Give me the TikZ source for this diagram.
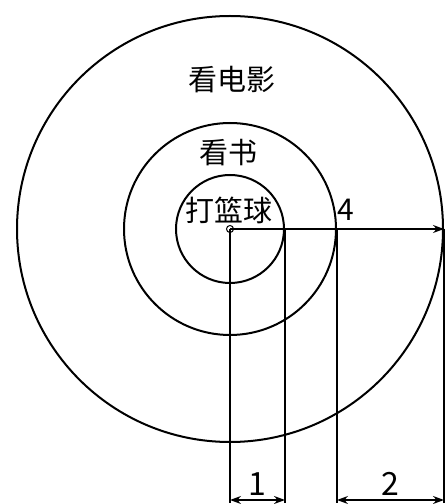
\documentclass[tikz,border=0pt]{standalone}
\usepackage{fontspec}
\setmainfont{Noto Sans CJK SC}
\usepackage{tikz}
\usetikzlibrary{arrows.meta,positioning,calc}
\tikzset{
  ring/.style={draw, circle, line width=2pt, inner sep=0pt},
  lbl/.style={font=\fontsize{29}{31}\selectfont, inner sep=0pt},
  num/.style={font=\fontsize{32}{34}\selectfont, inner sep=0pt},
  dimln/.style={line width=1.2pt},
  arr/.style={-{Stealth[length=11pt,width=8pt]}, line width=1.2pt},
  darr/.style={{Stealth[length=11pt,width=8pt]}-{Stealth[length=11pt,width=8pt]}, line width=1.2pt},
}
\begin{document}
\begin{tikzpicture}[x=1pt,y=1pt]
\useasboundingbox (0,0) rectangle (445,504);
\coordinate (c) at (230,275);
% the three rings
\node[ring, minimum size=426pt] (outer) at (c) {};
\node[ring, minimum size=212pt] (mid) at (c) {};
\node[ring, minimum size=108pt] (inner) at (c) {};
\node[circle, draw, line width=1pt, minimum size=7pt, inner sep=0pt] (o) at (c) {};
\node[lbl] (movie) at (232,424) {看电影};
\node[lbl] (book) at (228,351) {看书};
\node[lbl] (ball) at (229,294) {打篮球};
% radius
\draw[arr] (c) -- (outer.east);
\node[num, font=\fontsize{30}{32}\selectfont, anchor=south west] (four) at (337,283) {4};
% extension lines
\foreach \n/\s in {a/c, b/inner.east, d/mid.east, e/outer.east}
  \coordinate (\n) at (\s |- 0,4);
\foreach \s/\n in {c/a, inner.east/b, mid.east/d, outer.east/e}
  \draw[dimln] (\s) -- ($(\n)+(0,-3)$);
% widths
\draw[darr] (a) -- node[num, above=4pt] (one) {1} (b);
\draw[darr] (d) -- node[num, above=4pt] (two) {2} (e);
\end{tikzpicture}
\end{document}
